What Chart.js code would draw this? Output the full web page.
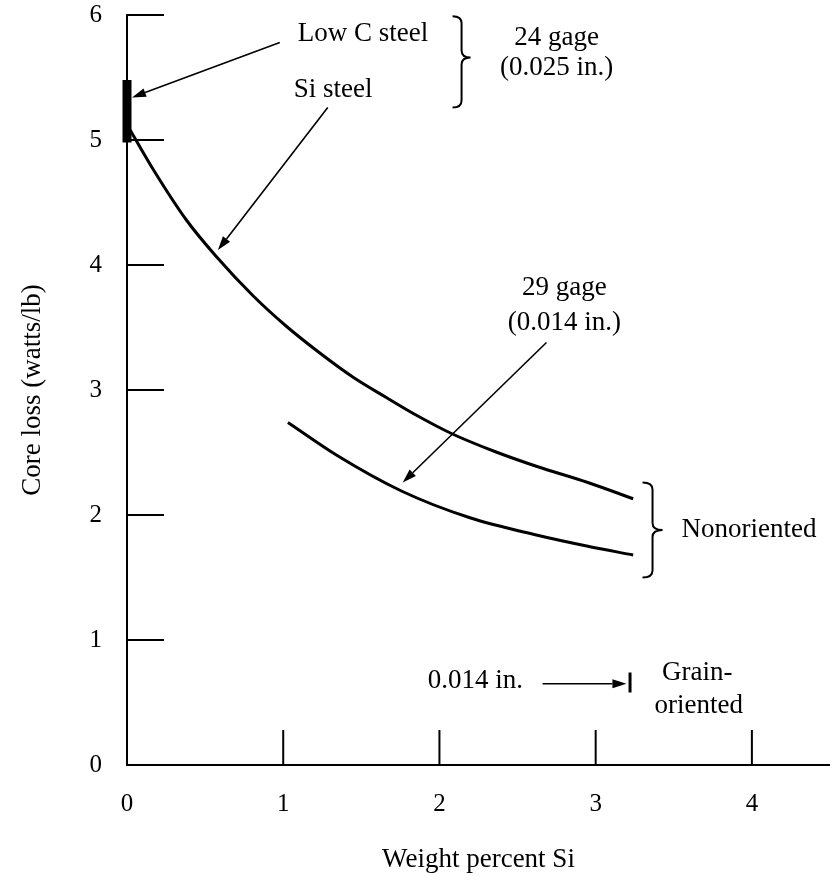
<!DOCTYPE html>
<html>
<head>
<meta charset="utf-8">
<script src="https://cdn.jsdelivr.net/npm/chart.js@4/dist/chart.umd.min.js"></script>
<style>
html,body{margin:0;padding:0;background:#fff}
#wrap{width:830px;height:880px;position:relative}
</style>
</head>
<body>
<div id="wrap"><canvas id="c" width="830" height="880"></canvas></div>
<script>
// ---- data ----
const gage24Si   = [0.02, 0.17, 0.38, 0.57, 0.81, 1.02, 1.23, 1.45, 1.66, 1.85, 2.08, 2.35, 2.62, 2.95, 3.24];
const gage24Loss = [5.08, 4.76, 4.36, 4.07, 3.75, 3.51, 3.30, 3.10, 2.94, 2.80, 2.65, 2.51, 2.39, 2.26, 2.13];
const gage29Si   = [1.03, 1.34, 1.76, 2.19, 2.62, 2.95, 3.24];
const gage29Loss = [2.74, 2.48, 2.19, 1.98, 1.84, 1.75, 1.68];
const lowCSi     = [0, 0];
const lowCLoss   = [4.98, 5.48];
const grainSi    = [3.22, 3.22];
const grainLoss  = [0.58, 0.74];
const xTickValues = [0, 1, 2, 3, 4];
const yTickValues = [0, 1, 2, 3, 4, 5, 6];

// ---- annotations (data units) ----
const noteTexts = [
  {text: 'Low C steel', x: 1.51, y: 5.85, align: 'center'},
  {text: 'Si steel', x: 1.32, y: 5.40, align: 'center'},
  {text: '24 gage', x: 2.75, y: 5.82, align: 'center'},
  {text: '(0.025 in.)', x: 2.75, y: 5.58, align: 'center'},
  {text: '29 gage', x: 2.80, y: 3.82, align: 'center'},
  {text: '(0.014 in.)', x: 2.80, y: 3.54, align: 'center'},
  {text: 'Nonoriented', x: 3.55, y: 1.88, align: 'left'},
  {text: '0.014 in.', x: 2.23, y: 0.67, align: 'center'},
  {text: 'Grain-', x: 3.65, y: 0.74, align: 'center'},
  {text: 'oriented', x: 3.66, y: 0.47, align: 'center'}
];
const noteArrows = [
  {from: [0.978, 5.78], to: [0.032, 5.34]},
  {from: [1.285, 5.26], to: [0.582, 4.12]},
  {from: [2.685, 3.38], to: [1.765, 2.26]},
  {from: [2.66, 0.65], to: [3.197, 0.65]}
];
const noteBraces = [
  {x: 2.084, top: 5.99, bottom: 5.26, tip: 5.66, w: 18},
  {x: 3.30, top: 2.26, bottom: 1.50, tip: 1.88, w: 20}
];

const serif = "'Liberation Serif', 'Times New Roman', serif";
const pts = (xs, ys) => xs.map((x, i) => ({x: x, y: ys[i]}));

const figurePlugin = {
  id: 'figureMarks',
  afterDraw(chart) {
    const ctx = chart.ctx;
    const xs = chart.scales.x, ys = chart.scales.y;
    const area = chart.chartArea;
    ctx.save();
    ctx.strokeStyle = '#000';
    ctx.fillStyle = '#000';
    ctx.lineWidth = 2;
    // inward tick marks
    yTickValues.forEach(v => {
      if (v === 0) return;
      const py = ys.getPixelForValue(v);
      ctx.beginPath(); ctx.moveTo(area.left, py); ctx.lineTo(area.left + 37, py); ctx.stroke();
    });
    xTickValues.forEach(v => {
      if (v === 0) return;
      const px = xs.getPixelForValue(v);
      ctx.beginPath(); ctx.moveTo(px, area.bottom); ctx.lineTo(px, area.bottom - 35); ctx.stroke();
    });
    // braces
    noteBraces.forEach(b => {
      const x0 = xs.getPixelForValue(b.x);
      const y1 = ys.getPixelForValue(b.top), y2 = ys.getPixelForValue(b.bottom), yt = ys.getPixelForValue(b.tip);
      const xm = x0 + b.w * 0.5, xe = x0 + b.w, r = 7;
      ctx.beginPath();
      ctx.moveTo(x0, y1);
      ctx.quadraticCurveTo(xm, y1, xm, y1 + r);
      ctx.lineTo(xm, yt - r);
      ctx.quadraticCurveTo(xm, yt, xe, yt);
      ctx.quadraticCurveTo(xm, yt, xm, yt + r);
      ctx.lineTo(xm, y2 - r);
      ctx.quadraticCurveTo(xm, y2, x0, y2);
      ctx.stroke();
    });
    // arrows
    ctx.lineWidth = 1.6;
    noteArrows.forEach(a => {
      const x1 = xs.getPixelForValue(a.from[0]), y1 = ys.getPixelForValue(a.from[1]);
      const x2 = xs.getPixelForValue(a.to[0]), y2 = ys.getPixelForValue(a.to[1]);
      const ang = Math.atan2(y2 - y1, x2 - x1);
      const hl = 14, hw = 4.5;
      const bx = x2 - hl * Math.cos(ang), by = y2 - hl * Math.sin(ang);
      ctx.beginPath(); ctx.moveTo(x1, y1); ctx.lineTo(bx, by); ctx.stroke();
      ctx.beginPath();
      ctx.moveTo(x2, y2);
      ctx.lineTo(bx + hw * Math.sin(ang), by - hw * Math.cos(ang));
      ctx.lineTo(bx - hw * Math.sin(ang), by + hw * Math.cos(ang));
      ctx.closePath(); ctx.fill();
    });
    // texts
    ctx.font = '27px ' + serif;
    ctx.textBaseline = 'middle';
    noteTexts.forEach(t => {
      ctx.textAlign = t.align;
      ctx.fillText(t.text, xs.getPixelForValue(t.x), ys.getPixelForValue(t.y));
    });
    ctx.restore();
  }
};

const lineStyle = {borderColor: '#000', backgroundColor: '#000', pointRadius: 0, showLine: true, fill: false, clip: false};

new Chart(document.getElementById('c'), {
  type: 'scatter',
  data: {
    datasets: [
      Object.assign({label: '24 gage Si steel', data: pts(gage24Si, gage24Loss), borderWidth: 3, cubicInterpolationMode: 'monotone'}, lineStyle),
      Object.assign({label: '29 gage Si steel', data: pts(gage29Si, gage29Loss), borderWidth: 3, cubicInterpolationMode: 'monotone'}, lineStyle),
      Object.assign({label: 'Low C steel', data: pts(lowCSi, lowCLoss), borderWidth: 9, borderCapStyle: 'butt'}, lineStyle),
      Object.assign({label: 'Grain-oriented 0.014 in.', data: pts(grainSi, grainLoss), borderWidth: 3, borderCapStyle: 'butt'}, lineStyle)
    ]
  },
  options: {
    responsive: false,
    animation: false,
    layout: {padding: {top: 15, right: 0, left: 0, bottom: 0}},
    plugins: {legend: {display: false}, tooltip: {enabled: false}},
    scales: {
      x: {
        type: 'linear', min: 0, max: 4.5,
        afterBuildTicks: s => { s.ticks = xTickValues.map(v => ({value: v})); },
        afterFit: s => { s.height = 115; s.paddingLeft = 0; s.paddingRight = 0; },
        grid: {display: false},
        border: {display: true, color: '#000', width: 2},
        ticks: {color: '#000', font: {family: serif, size: 25}, padding: 16},
        title: {display: true, text: 'Weight percent Si', color: '#000', font: {family: serif, size: 27}, padding: {top: 0, bottom: 4}}
      },
      y: {
        type: 'linear', min: 0, max: 6,
        afterBuildTicks: s => { s.ticks = yTickValues.map(v => ({value: v})); },
        afterFit: s => { s.width = 127; s.paddingTop = 0; s.paddingBottom = 0; },
        grid: {display: false},
        border: {display: true, color: '#000', width: 2},
        ticks: {color: '#000', font: {family: serif, size: 25}, padding: 17},
        title: {display: true, text: 'Core loss (watts/lb)', color: '#000', font: {family: serif, size: 27}, padding: {top: 17, bottom: 0}}
      }
    }
  },
  plugins: [figurePlugin]
});
</script>
</body>
</html>
